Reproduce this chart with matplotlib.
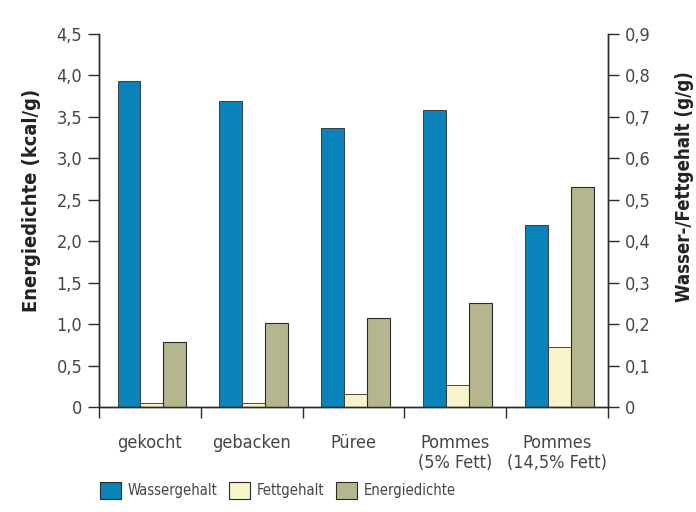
import matplotlib
matplotlib.use("Agg")
import matplotlib.pyplot as plt
import numpy as np
from matplotlib.patches import Patch

categories = ["gekocht", "gebacken", "Püree", "Pommes\n(5% Fett)", "Pommes\n(14,5% Fett)"]
wassergehalt = [0.787, 0.738, 0.674, 0.717, 0.439]   # g/g, right axis
fettgehalt = [0.010, 0.010, 0.031, 0.052, 0.145]     # g/g, right axis
energiedichte = [0.78, 1.01, 1.07, 1.25, 2.66]       # kcal/g, left axis
left_ticks = [0, 0.5, 1.0, 1.5, 2.0, 2.5, 3.0, 3.5, 4.0, 4.5]
left_labels = ["0", "0,5", "1,0", "1,5", "2,0", "2,5", "3,0", "3,5", "4,0", "4,5"]
right_ticks = [0, 0.1, 0.2, 0.3, 0.4, 0.5, 0.6, 0.7, 0.8, 0.9]
right_labels = ["0", "0,1", "0,2", "0,3", "0,4", "0,5", "0,6", "0,7", "0,8", "0,9"]

c_blue = "#0a83bb"
c_yellow = "#f8f3cb"
c_olive = "#b6b68e"
c_text = "#444444"
edge = "#2a2a2a"

plt.rcParams["font.family"] = ["DejaVu Sans"]
plt.rcParams["font.stretch"] = "condensed"

fig = plt.figure(figsize=(6.96, 5.12), dpi=100)
ax = fig.add_axes([0.1422, 0.205, 0.7314, 0.7286])
ax2 = ax.twinx()

x = np.arange(len(categories))
w = 0.225
ax2.bar(x - w + 0.02, wassergehalt, w, color=c_blue, edgecolor=edge, linewidth=0.6, zorder=2)
ax2.bar(x + 0.02, fettgehalt, w, color=c_yellow, edgecolor=edge, linewidth=0.6, zorder=2)
ax.bar(x + w + 0.02, energiedichte, w, color=c_olive, edgecolor=edge, linewidth=0.8, zorder=2)
ax2.set_zorder(ax.get_zorder() - 1)
ax.patch.set_visible(False)

ax.set_xlim(-0.5, len(categories) - 0.5)
ax.set_ylim(0, 4.5)
ax2.set_ylim(0, 0.9)

ax.set_yticks(left_ticks)
ax.set_yticklabels(left_labels, fontsize=13, color=c_text)
ax2.set_yticks(right_ticks)
ax2.set_yticklabels(right_labels, fontsize=13, color=c_text)

ax.set_xticks(np.arange(len(categories) + 1) - 0.5)
ax.set_xticklabels([])
ax.tick_params(axis="x", length=8, width=1, direction="out", color=edge)
ax.tick_params(axis="y", length=8, width=1, color=edge, pad=4)
ax2.tick_params(axis="y", length=8, width=1, color=edge, pad=4)
for i, c in enumerate(categories):
    ax.text(i, -0.32, c, ha="center", va="top", fontsize=13, color=c_text,
            linespacing=1.15)

for a in (ax, ax2):
    a.spines["top"].set_visible(False)
    for s in ("left", "right", "bottom"):
        a.spines[s].set_color(edge)
        a.spines[s].set_linewidth(1)

ax.set_ylabel("Energiedichte (kcal/g)", fontsize=14.4, fontweight="bold",
              color="#222222")
ax.yaxis.set_label_coords(-0.114, 0.555)
ax2.set_ylabel("Wasser-/Fettgehalt (g/g)", fontsize=13.4, fontweight="bold",
               color="#222222")
ax2.yaxis.set_label_coords(1.132, 0.59)

handles = [Patch(facecolor=c_blue, edgecolor=edge, linewidth=0.8),
           Patch(facecolor=c_yellow, edgecolor=edge, linewidth=0.8),
           Patch(facecolor=c_olive, edgecolor=edge, linewidth=0.8)]
fig.legend(handles, ["Wassergehalt", "Fettgehalt", "Energiedichte"],
           loc="lower left", bbox_to_anchor=(0.125, 0.0), ncol=3, frameon=False,
           fontsize=10.5, handlelength=1.4, handleheight=1.4, handletextpad=0.5,
           columnspacing=0.8, labelcolor=c_text)

fig.savefig("out.png", dpi=100)
